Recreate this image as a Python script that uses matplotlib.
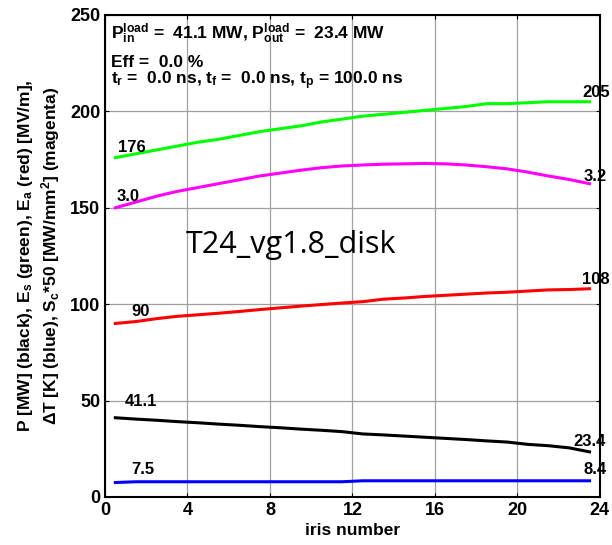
import numpy as np
import matplotlib
matplotlib.use("Agg")
import matplotlib.pyplot as plt

plt.rcParams['font.family'] = ['Liberation Sans', 'DejaVu Sans']
plt.rcParams['font.weight'] = 'bold'
plt.rcParams['mathtext.fontset'] = 'custom'
plt.rcParams['mathtext.rm'] = 'Liberation Sans:bold'
plt.rcParams['mathtext.it'] = 'Liberation Sans:bold'
plt.rcParams['mathtext.bf'] = 'Liberation Sans:bold'

# iris positions (cell centres)
iris = np.arange(24) + 0.5

# power [MW]
power = [41.1, 40.4, 39.8, 39.1, 38.5, 37.8, 37.2, 36.5, 35.9, 35.2, 34.6, 33.9,
         32.7, 32.2, 31.6, 31.0, 30.4, 29.8, 29.1, 28.5, 27.3, 26.6, 25.5, 23.4]
# surface field Es [MV/m]
e_surf = [176, 178, 180, 182, 184, 185.5, 187.5, 189.5, 191, 192.5, 194.5, 196,
          197.5, 198.5, 199.5, 200.5, 201.5, 202.5, 204, 204, 204.5, 205, 205, 205]
# accelerating field Ea [MV/m]
e_acc = [90, 91, 92.5, 93.7, 94.5, 95.3, 96.2, 97.2, 98.1, 99, 99.8, 100.6,
         101.3, 102.6, 103.2, 104.0, 104.6, 105.2, 105.8, 106.2, 106.8, 107.4, 107.6, 108]
# pulsed heating dT [K]
temp_rise = [7.5, 7.9, 7.9, 7.9, 7.9, 7.9, 7.9, 7.9, 7.9, 7.9, 7.9, 7.9,
             8.4, 8.4, 8.4, 8.4, 8.4, 8.4, 8.4, 8.4, 8.4, 8.4, 8.4, 8.4]
# modified Poynting vector Sc*50
sc50 = [150, 153, 156, 158.5, 160.5, 162.5, 164.5, 166.5, 168, 169.5, 170.8, 171.7,
        172.2, 172.6, 172.8, 173, 172.8, 172.2, 171.3, 170.2, 168.5, 166.5, 164.7, 162.5]

fig = plt.figure(figsize=(6.12, 5.45), dpi=100)
ax = fig.add_axes([0.1716, 0.0881, 0.8085, 0.8844])

ax.plot(iris, e_surf, color=(0, 1, 0), lw=2.2)
ax.plot(iris, sc50, color=(1, 0, 1), lw=2.2)
ax.plot(iris, e_acc, color=(1, 0, 0), lw=2.2)
ax.plot(iris, power, color='k', lw=2.2)
ax.plot(iris, temp_rise, color=(0, 0, 1), lw=2.2)

ax.set_xlim(0, 24)
ax.set_ylim(0, 250)
ax.set_xticks(np.arange(0, 25, 4))
ax.set_yticks(np.arange(0, 251, 50))
ax.grid(True, color='#a0a0a0', lw=0.9)
ax.tick_params(direction='in', right=True, top=True, labelsize=13, length=3)
for s in ax.spines.values():
    s.set_linewidth(1.5)

ax.set_xlabel('iris number', fontsize=12.5, fontweight='bold', labelpad=3)
ax.set_ylabel('P [MW] (black), E$_s$ (green), E$_a$ (red) [MV/m],\n'
              r'$\Delta$T [K] (blue), S$_c$*50 [MW/mm$^2$] (magenta)',
              fontsize=12.5, fontweight='bold', labelpad=6)

# start / end value labels
fs = 12
ax.text(0.65, 181.5, '%d' % e_surf[0], fontsize=fs, va='center')
ax.text(0.55, 155.6, '%.1f' % (sc50[0] / 50), fontsize=fs, va='center')
ax.text(1.3, 96, '%d' % e_acc[0], fontsize=fs, va='center')
ax.text(0.95, 49.3, '%.1f' % power[0], fontsize=fs, va='center')
ax.text(1.25, 14, '%.1f' % temp_rise[0], fontsize=fs, va='center')
ax.text(23.15, 210, '%d' % e_surf[-1], fontsize=fs, va='center', clip_on=False)
ax.text(23.2, 166, '%.1f' % (sc50[-1] / 50 - 0.05), fontsize=fs, va='center', clip_on=False)
ax.text(23.15, 113, '%d' % e_acc[-1], fontsize=fs, va='center', clip_on=False)
ax.text(22.7, 29, '%.1f' % power[-1], fontsize=fs, va='center', clip_on=False)
ax.text(23.2, 14.5, '%.1f' % temp_rise[-1], fontsize=fs, va='center', clip_on=False)

ax.text(0.3, 240.5, r'P$^{\mathrm{load}}_{\mathrm{in}}$ =  41.1 MW, P$^{\mathrm{load}}_{\mathrm{out}}$ =  23.4 MW',
        fontsize=12.5, va='center')
ax.text(0.3, 225.5, 'Eff =  0.0 %', fontsize=12.5, va='center')
ax.text(0.3, 216, r't$_r$ =  0.0 ns, t$_f$ =  0.0 ns, t$_p$ = 100.0 ns', fontsize=12.5, va='center')

ax.text(3.9, 130.5, 'T24_vg1.8_disk', fontsize=22, fontweight='normal',
        family=['Open Sans', 'DejaVu Sans'], va='center')

fig.savefig('out.png', dpi=100)
